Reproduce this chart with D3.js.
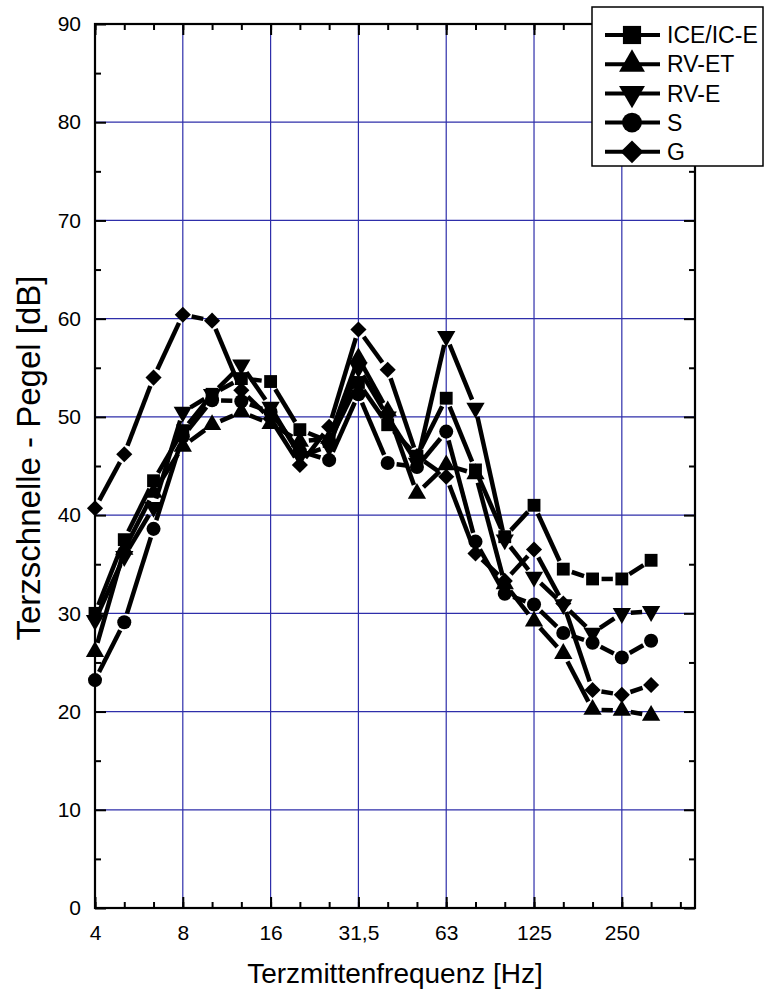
<!DOCTYPE html>
<html><head><meta charset="utf-8">
<script src="https://cdn.jsdelivr.net/npm/d3@7"></script>
<style>body{margin:0;background:#fff}svg{display:block}text{font-family:"Liberation Sans",Arial,sans-serif;fill:#000}</style>
</head><body><svg id="c" width="764" height="994"></svg>
<script>
// Third-octave band centre frequencies (Hz)
const bands = ["4","5","6,3","8","10","12,5","16","20","25","31,5","40","50","63","80","100","125","160","200","250","315"];
const xTickLabels = ["4","8","16","31,5","63","125","250"];
const xTickIndex = [0,3,6,9,12,15,18];
const yTicks = [0,10,20,30,40,50,60,70,80,90];

const seriesNames = ["ICE/IC-E","RV-ET","RV-E","S","G"];
const iceValues  = [30.0,37.5,43.5,48.6,52.3,53.9,53.6,48.7,47.5,53.5,49.2,46.0,51.9,44.6,37.8,41.0,34.5,33.5,33.5,35.4];
const rvetValues = [26.1,36.5,42.3,47.0,49.2,50.5,49.3,47.5,47.8,56.0,50.6,42.2,45.1,44.2,33.0,29.2,25.9,20.2,20.1,19.6];
const rveValues  = [29.3,35.8,40.8,50.5,52.3,55.3,51.0,46.0,47.0,55.0,50.0,45.3,58.2,50.9,37.5,33.7,30.9,28.0,30.0,30.2];
const sValues    = [23.2,29.1,38.6,48.0,51.7,51.6,50.5,46.5,45.6,52.3,45.3,44.9,48.5,37.3,32.0,30.9,28.0,27.0,25.5,27.2];
const gValues    = [40.7,46.2,54.0,60.4,59.8,52.7,49.8,45.1,49.0,58.9,54.8,46.0,43.9,36.1,33.3,36.5,31.0,22.2,21.7,22.7];
const seriesValues = [iceValues, rvetValues, rveValues, sValues, gValues];
const symbols = ["square","triangle","triangleDown","circle","diamond"];

const svg = d3.select("#c");
const L = 95, R = 695, T = 24, B = 908;
const x = d3.scaleLinear().domain([0, 20.5]).range([L, R]);
const y = d3.scaleLinear().domain([0, 90]).range([B, T]);
const gridCol = "#2e2eaa";

function symPath(kind, scale) {
  const s = scale || 1;
  if (kind === "square") return d3.symbol(d3.symbolSquare, 165*s)();
  if (kind === "triangle" || kind === "triangleDown") return d3.symbol(d3.symbolTriangle, 145*s)();
  if (kind === "circle") return d3.symbol(d3.symbolCircle, 155*s)();
  return d3.symbol(d3.symbolSquare, 130*s)();
}
function symRot(kind) {
  if (kind === "triangleDown") return 180;
  if (kind === "diamond") return 45;
  return 0;
}

// grid
const grid = svg.append("g");
grid.selectAll("line.v").data(xTickIndex.slice(1)).join("line")
  .attr("x1", d => x(d)).attr("x2", d => x(d)).attr("y1", T).attr("y2", B)
  .attr("stroke", gridCol).attr("stroke-width", 1.2);
grid.selectAll("line.h").data(yTicks.slice(1, -1)).join("line")
  .attr("x1", L).attr("x2", R).attr("y1", d => y(d)).attr("y2", d => y(d))
  .attr("stroke", gridCol).attr("stroke-width", 1.2);

// series lines with gaps around the symbols
const gap = 9;
seriesValues.forEach((vals, si) => {
  const g = svg.append("g");
  const segs = [];
  for (let i = 0; i < vals.length - 1; i++) {
    const x1 = x(i), y1 = y(vals[i]), x2 = x(i+1), y2 = y(vals[i+1]);
    const dx = x2 - x1, dy = y2 - y1, len = Math.hypot(dx, dy);
    if (len <= 2*gap) continue;
    const ux = dx/len, uy = dy/len;
    segs.push([x1+ux*gap, y1+uy*gap, x2-ux*gap, y2-uy*gap]);
  }
  g.selectAll("line").data(segs).join("line")
    .attr("x1", d => d[0]).attr("y1", d => d[1]).attr("x2", d => d[2]).attr("y2", d => d[3])
    .attr("stroke", "#000").attr("stroke-width", 4.5);
});
seriesValues.forEach((vals, si) => {
  svg.append("g").selectAll("path").data(vals).join("path")
    .attr("d", symPath(symbols[si]))
    .attr("transform", (d, i) => `translate(${x(i)},${y(d)}) rotate(${symRot(symbols[si])})`)
    .attr("fill", "#000");
});

// axes (box with inward ticks)
const ax = svg.append("g");
const xMinor = d3.range(0, 21);
const yMinor = d3.range(5, 90, 10);
const bottom = d3.axisBottom(x).tickValues(xTickIndex).tickFormat((d, i) => xTickLabels[i]).tickSizeInner(-11).tickSizeOuter(0).tickPadding(17);
ax.append("g").attr("transform", `translate(0,${B})`).call(bottom);
ax.append("g").attr("transform", `translate(0,${B})`).call(d3.axisBottom(x).tickValues(xMinor).tickFormat("").tickSizeInner(-6).tickSizeOuter(0));
ax.append("g").attr("transform", `translate(0,${T})`).call(d3.axisTop(x).tickValues(xTickIndex).tickFormat("").tickSizeInner(-11).tickSizeOuter(0));
ax.append("g").attr("transform", `translate(0,${T})`).call(d3.axisTop(x).tickValues(xMinor).tickFormat("").tickSizeInner(-6).tickSizeOuter(0));
ax.append("g").attr("transform", `translate(${L},0)`).call(d3.axisLeft(y).tickValues(yTicks).tickSizeInner(-11).tickSizeOuter(0).tickPadding(14));
ax.append("g").attr("transform", `translate(${L},0)`).call(d3.axisLeft(y).tickValues(yMinor).tickFormat("").tickSizeInner(-6).tickSizeOuter(0));
ax.append("g").attr("transform", `translate(${R},0)`).call(d3.axisRight(y).tickValues(yTicks).tickFormat("").tickSizeInner(-11).tickSizeOuter(0));
ax.append("g").attr("transform", `translate(${R},0)`).call(d3.axisRight(y).tickValues(yMinor).tickFormat("").tickSizeInner(-6).tickSizeOuter(0));
ax.selectAll(".domain").remove();
ax.selectAll(".tick line").attr("stroke", "#000").attr("stroke-width", 2);
ax.selectAll(".tick text").attr("font-size", 21).attr("font-family", "Liberation Sans, Arial, sans-serif");
ax.append("rect").attr("x", L).attr("y", T).attr("width", R-L).attr("height", B-T)
  .attr("fill", "none").attr("stroke", "#000").attr("stroke-width", 2.2);

// axis titles
svg.append("text").attr("x", (L+R)/2).attr("y", 983).attr("text-anchor", "middle")
  .attr("font-size", 28).text("Terzmittenfrequenz [Hz]");
svg.append("text").attr("transform", `translate(40,458) rotate(-90)`).attr("text-anchor", "middle")
  .attr("font-size", 33).text("Terzschnelle - Pegel [dB]");

// legend
const lg = svg.append("g");
lg.append("rect").attr("x", 592).attr("y", 7).attr("width", 171).attr("height", 159)
  .attr("fill", "#fff").attr("stroke", "#000").attr("stroke-width", 1.5);
const ly = d => 35 + d*29.2;
seriesNames.forEach((name, i) => {
  lg.append("line").attr("x1", 605).attr("x2", 660).attr("y1", ly(i)).attr("y2", ly(i))
    .attr("stroke", "#000").attr("stroke-width", 4);
  lg.append("path").attr("d", symPath(symbols[i], 2.0))
    .attr("transform", `translate(632,${ly(i)}) rotate(${symRot(symbols[i])})`).attr("fill", "#000");
  lg.append("text").attr("x", 667).attr("y", ly(i)).attr("dy", "0.36em").attr("font-size", 23).text(name);
});
</script></body></html>
